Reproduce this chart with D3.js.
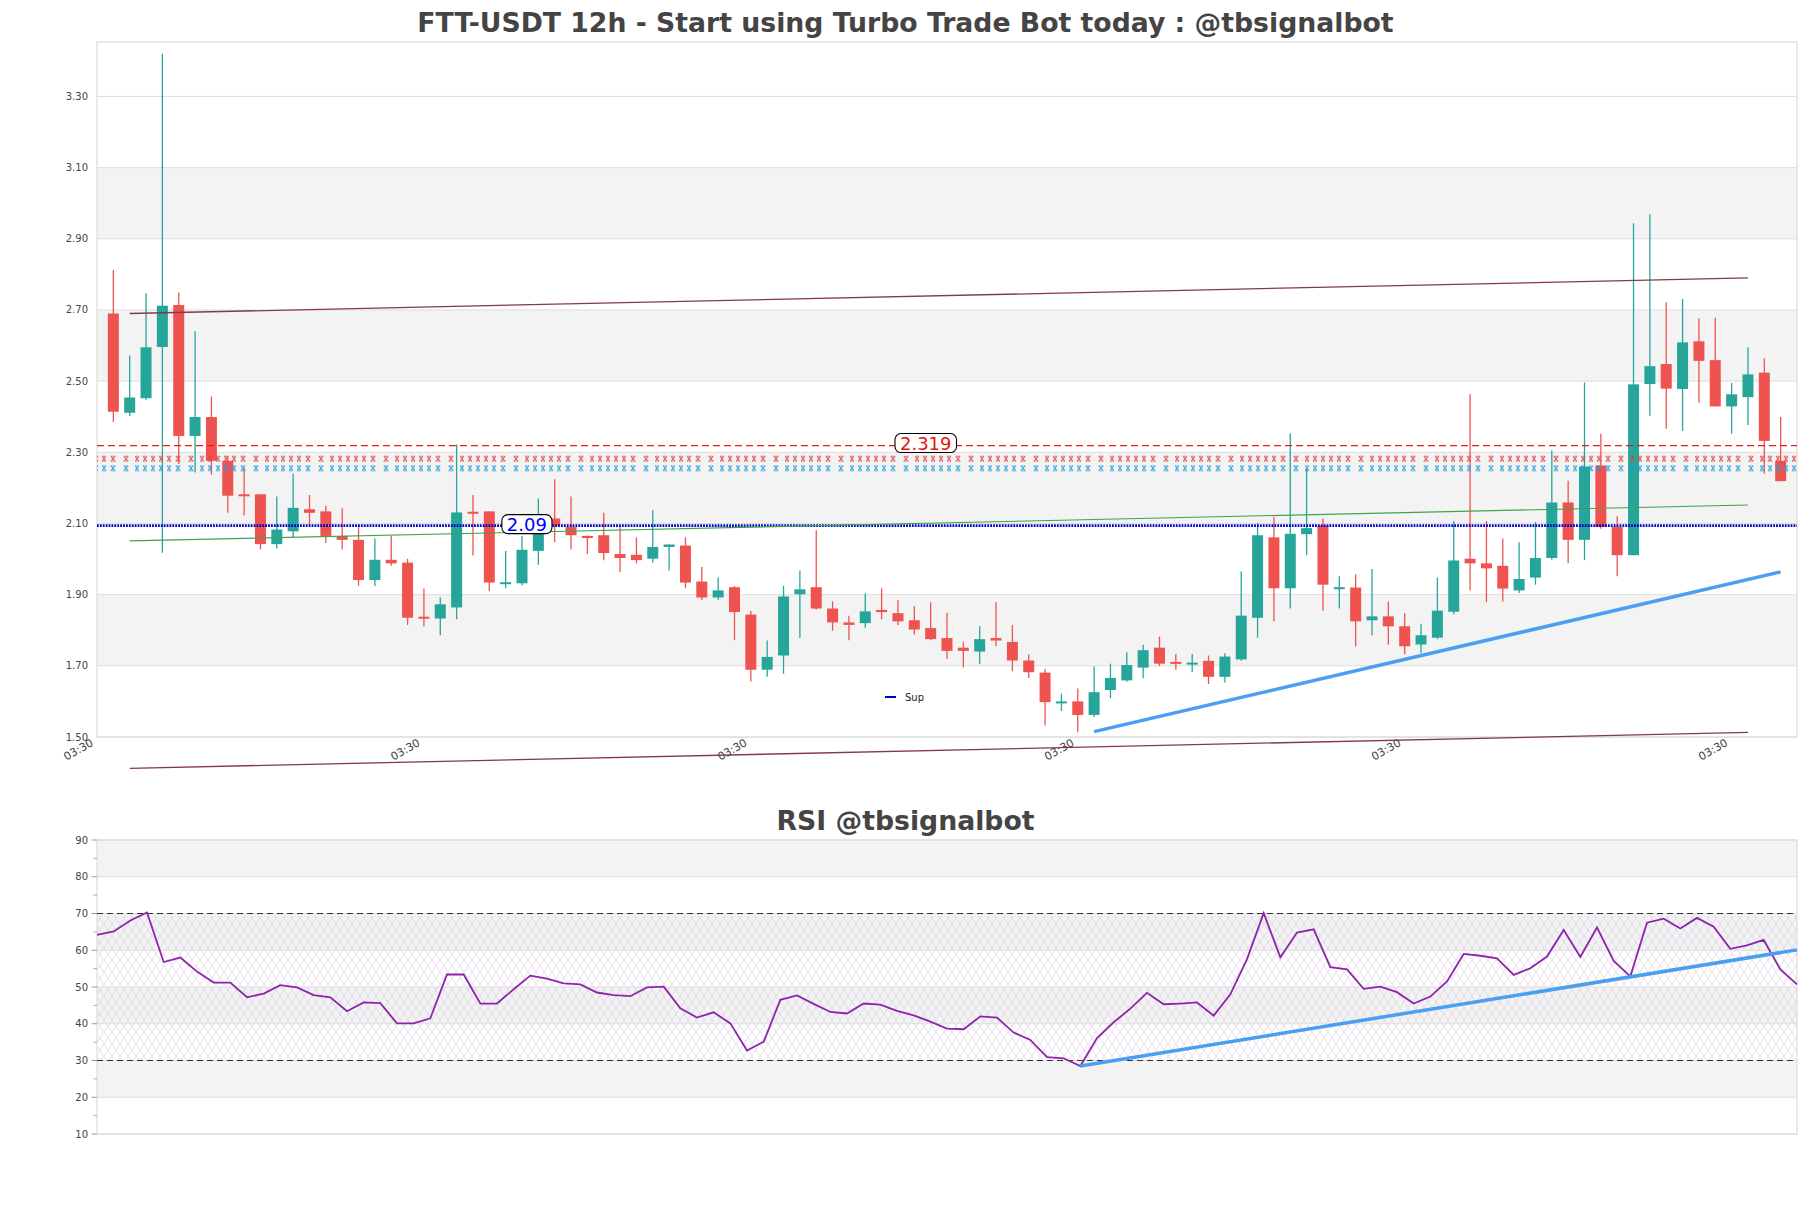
<!DOCTYPE html>
<html><head><meta charset="utf-8">
<script src="https://cdn.jsdelivr.net/npm/d3@7"></script>
<style>
html,body{margin:0;padding:0;background:#fff;}
svg{display:block;font-family:"DejaVu Sans",sans-serif;}
</style></head>
<body>
<svg id="chart" width="1811" height="1208"></svg>
<script>
// ---------- DATA ----------
const titleMain = "FTT-USDT 12h - Start using Turbo Trade Bot today : @tbsignalbot";
const titleRsi = "RSI @tbsignalbot";
const open  = [2.690,2.411,2.452,2.596,2.714,2.346,2.399,2.276,2.182,2.182,2.042,2.078,2.140,2.134,2.065,2.054,1.941,1.998,1.990,1.838,1.833,1.864,2.133,2.134,1.932,1.932,2.023,2.114,2.090,2.065,2.067,2.014,2.012,2.001,2.034,2.038,1.937,1.892,1.921,1.844,1.689,1.729,1.901,1.921,1.861,1.822,1.820,1.857,1.848,1.828,1.806,1.778,1.751,1.740,1.778,1.767,1.715,1.681,1.596,1.600,1.562,1.632,1.659,1.695,1.751,1.711,1.706,1.714,1.669,1.718,1.835,2.061,1.918,2.070,2.094,1.919,1.920,1.828,1.839,1.811,1.760,1.779,1.852,2.001,1.988,1.981,1.912,1.948,2.003,2.159,2.054,2.263,2.090,2.011,2.492,2.548,2.478,2.612,2.559,2.429,2.455,2.524,2.276];
const high  = [2.812,2.572,2.747,3.420,2.749,2.640,2.457,2.290,2.256,2.182,2.176,2.240,2.180,2.150,2.143,2.094,2.058,2.065,2.001,1.917,1.892,2.322,2.180,2.134,2.023,2.065,2.170,2.224,2.176,2.066,2.130,2.090,2.061,2.138,2.041,2.061,1.978,1.948,1.924,1.855,1.771,1.925,1.968,2.081,1.881,1.841,1.903,1.918,1.885,1.868,1.879,1.849,1.768,1.811,1.879,1.815,1.732,1.691,1.622,1.636,1.698,1.706,1.738,1.759,1.782,1.733,1.733,1.729,1.735,1.965,2.101,2.118,2.353,2.253,2.114,1.952,1.957,1.972,1.881,1.848,1.818,1.948,2.107,2.463,2.107,2.058,2.047,2.104,2.306,2.220,2.496,2.352,2.120,2.944,2.969,2.722,2.731,2.677,2.678,2.495,2.595,2.564,2.399];
const low   = [2.385,2.402,2.448,2.018,2.267,2.243,2.237,2.130,2.123,2.027,2.030,2.061,2.094,2.045,2.027,1.925,1.924,1.981,1.815,1.811,1.786,1.831,2.010,1.910,1.918,1.926,1.984,2.047,2.027,2.014,1.997,1.964,1.988,1.990,1.968,1.918,1.885,1.885,1.772,1.656,1.669,1.678,1.778,1.858,1.799,1.772,1.807,1.831,1.815,1.788,1.772,1.719,1.695,1.705,1.755,1.685,1.666,1.532,1.573,1.513,1.556,1.609,1.655,1.665,1.699,1.689,1.682,1.649,1.653,1.714,1.779,1.825,1.861,2.011,1.855,1.861,1.755,1.786,1.759,1.732,1.735,1.775,1.845,1.912,1.879,1.881,1.905,1.928,1.998,1.988,1.997,2.085,1.952,2.011,2.403,2.366,2.360,2.439,2.429,2.352,2.377,2.240,2.219];
const close = [2.414,2.454,2.595,2.712,2.346,2.399,2.276,2.178,2.178,2.042,2.083,2.144,2.130,2.065,2.054,1.941,1.998,1.988,1.835,1.834,1.873,2.131,2.129,1.934,1.935,2.026,2.074,2.094,2.067,2.059,2.017,2.003,1.997,2.034,2.041,1.934,1.892,1.912,1.851,1.689,1.725,1.895,1.915,1.861,1.822,1.815,1.853,1.851,1.825,1.802,1.775,1.742,1.742,1.775,1.771,1.715,1.682,1.598,1.600,1.562,1.626,1.666,1.702,1.744,1.706,1.708,1.709,1.669,1.726,1.841,2.067,1.918,2.071,2.087,1.928,1.921,1.825,1.839,1.811,1.755,1.786,1.855,1.996,1.988,1.974,1.917,1.944,2.003,2.159,2.054,2.260,2.090,2.011,2.491,2.542,2.479,2.609,2.557,2.429,2.463,2.519,2.332,2.219];
const rsi   = [64.2,65.1,68.1,70.3,56.8,58.0,54.2,51.2,51.2,47.2,48.2,50.5,49.9,47.8,47.2,43.4,45.8,45.6,40.1,40.1,41.5,53.4,53.4,45.5,45.5,49.4,53.1,52.3,51.0,50.7,48.5,47.8,47.5,49.9,50.1,44.2,41.7,43.1,40.1,32.7,35.1,46.5,47.7,45.4,43.2,42.8,45.5,45.2,43.5,42.3,40.6,38.7,38.5,42.0,41.7,37.6,35.6,30.9,30.6,28.5,36.1,40.4,44.1,48.4,45.3,45.5,45.8,42.2,48.0,57.6,70.1,58.1,64.8,65.7,55.4,54.8,49.5,50.1,48.6,45.5,47.4,51.5,59.0,58.5,57.8,53.3,55.1,58.3,65.5,58.2,66.2,57.1,52.9,67.5,68.6,65.9,68.8,66.4,60.4,61.3,62.8,54.8,50.7];
const xTickIndex  = [-1,19,39,59,79,99];
const xTickLabels = ["03:30","03:30","03:30","03:30","03:30","03:30"];
const priceTicks  = [1.50,1.70,1.90,2.10,2.30,2.50,2.70,2.90,3.10,3.30];
const rsiTicks    = [10,20,30,40,50,60,70,80,90];
const rsiMinorTicks = [15,25,35,45,55,65,75,85];
// horizontal levels
const resistanceLevel = 2.319;   // red dashed, labelled
const redZoneLevel    = 2.282;   // red "x" line
const blueZoneLevel   = 2.255;   // blue "x" line
const supportLevel    = 2.094;   // blue dotted, labelled "2.09"
const supportLabel    = "2.09";
const resistanceLabel = "2.319";
// trend lines: [index, value]
const channelTop    = [[1,2.690],[100,2.790]];
const channelBottom = [[1,1.412],[100,1.513]];
const channelMid    = [[1,2.051],[100,2.152]];
const supTrend      = [[60,1.515],[102,1.964]];
const rsiTrend      = [[59,28.5],[102,60.1]];
const rsiLevels     = [70,30];
const legendLabel   = "Sup";

// ---------- LAYOUT ----------
const svg = d3.select("#chart");
const X0 = 97, X1 = 1797;
const M = {top:42, bottom:737};
const R = {top:840, bottom:1134};
const n = close.length;
const x  = d3.scaleLinear().domain([-1, n]).range([X0, X1]);
const y  = d3.scaleLinear().domain([1.5, 3.453]).range([M.bottom, M.top]);
const xr = d3.scaleLinear().domain([0, n-1]).range([X0, X1]);
const yr = d3.scaleLinear().domain([10, 90]).range([R.bottom, R.top]);
const UP = "#26a69a", DOWN = "#ef5350", TXT = "#444";

svg.append("rect").attr("width",1811).attr("height",1208).attr("fill","#fff");

// defs
const defs = svg.append("defs");
const hatch = defs.append("pattern").attr("id","hatch").attr("patternUnits","userSpaceOnUse")
  .attr("width",8).attr("height",12);
hatch.append("path").attr("d","M0,0 L8,12 M8,0 L0,12").attr("stroke","#d3c5dd").attr("stroke-width",0.55).attr("fill","none");

function xPattern(id, color, cy){
  const p = defs.append("pattern").attr("id",id).attr("patternUnits","userSpaceOnUse")
    .attr("x",5).attr("y",cy-3).attr("width",65).attr("height",6);
  let d = "";
  [0,8,16,24,32].forEach(q=>{ d += ` M${q},0.8 H${q+4} M${q},5.2 H${q+4} M${q},0.8 L${q+4},5.2 M${q+4},0.8 L${q},5.2`; });
  [43,56].forEach(q=>{ d += ` M${q-2.5},0.8 H${q+2.5} M${q-2.5},5.2 H${q+2.5} M${q-2},1 L${q+2},5 M${q+2},1 L${q-2},5`; });
  p.append("path").attr("d",d).attr("stroke",color).attr("stroke-width",0.9).attr("fill","none");
}

// ---------- MAIN PANEL ----------
const gm = svg.append("g");
for (let k=0; k<priceTicks.length-1; k++){
  if (k % 2 === 1) gm.append("rect").attr("x",X0).attr("width",X1-X0)
    .attr("y",y(priceTicks[k+1])).attr("height",y(priceTicks[k])-y(priceTicks[k+1])).attr("fill","#f3f3f3");
}
gm.selectAll("line.grid").data(priceTicks).join("line").attr("class","grid")
  .attr("x1",X0).attr("x2",X1).attr("y1",d=>y(d)).attr("y2",d=>y(d))
  .attr("stroke","#dedede").attr("stroke-width",1);
gm.append("rect").attr("x",X0).attr("y",M.top).attr("width",X1-X0).attr("height",M.bottom-M.top)
  .attr("fill","none").attr("stroke","#dcdcdc").attr("stroke-width",1.2);
gm.selectAll("text.yl").data(priceTicks).join("text").attr("class","yl")
  .attr("x",88).attr("y",d=>y(d)).attr("dy","0.35em").attr("text-anchor","end")
  .attr("font-size",10).attr("fill",TXT).text(d=>d.toFixed(2));
gm.selectAll("text.xl").data(xTickIndex).join("text").attr("class","xl")
  .attr("transform",d=>`translate(${x(d)-3},${M.bottom+8}) rotate(-30)`)
  .attr("text-anchor","end").attr("font-size",11).attr("fill",TXT)
  .text((d,i)=>xTickLabels[i]);

// candles
const idx = d3.range(n);
const gc = gm.append("g");
gc.selectAll("line.wick").data(idx).join("line").attr("class","wick")
  .attr("x1",i=>x(i)).attr("x2",i=>x(i)).attr("y1",i=>y(high[i])).attr("y2",i=>y(low[i]))
  .attr("stroke",i=>close[i]>=open[i]?UP:DOWN).attr("stroke-width",1.3);
gc.selectAll("rect.body").data(idx).join("rect").attr("class","body")
  .attr("x",i=>x(i)-5.5).attr("width",11)
  .attr("y",i=>y(Math.max(open[i],close[i])))
  .attr("height",i=>Math.max(2, Math.abs(y(open[i])-y(close[i]))))
  .attr("fill",i=>close[i]>=open[i]?UP:DOWN);

// horizontal levels
xPattern("xpRed","#e2403f",y(redZoneLevel));
xPattern("xpBlue","#1a9be0",y(blueZoneLevel));
gm.append("rect").attr("x",X0).attr("width",X1-X0).attr("y",y(redZoneLevel)-3).attr("height",6).attr("fill","url(#xpRed)");
gm.append("rect").attr("x",X0).attr("width",X1-X0).attr("y",y(blueZoneLevel)-3).attr("height",6).attr("fill","url(#xpBlue)");
gm.append("line").attr("x1",X0).attr("x2",X1).attr("y1",y(resistanceLevel)).attr("y2",y(resistanceLevel))
  .attr("stroke","#e0201c").attr("stroke-width",1.3).attr("stroke-dasharray","7,4");
gm.append("line").attr("x1",X0).attr("x2",X1).attr("y1",y(supportLevel)).attr("y2",y(supportLevel))
  .attr("stroke","#0000c8").attr("stroke-width",2.6).attr("stroke-dasharray","1.8,1.1");

// trend lines
const lineP = d3.line().x(d=>x(d[0])).y(d=>y(d[1]));
gm.append("path").attr("d",lineP(channelTop)).attr("stroke","#84394a").attr("stroke-width",1.3).attr("fill","none");
gm.append("path").attr("d",lineP(channelBottom)).attr("stroke","#84394a").attr("stroke-width",1.3).attr("fill","none");
gm.append("path").attr("d",lineP(channelMid)).attr("stroke","#3fa34d").attr("stroke-width",1.1).attr("fill","none");
gm.append("path").attr("d",lineP(supTrend)).attr("stroke","#4a9ff0").attr("stroke-width",3.5).attr("fill","none");

// labels
function boxLabel(cx, cy, txt, color){
  const g = gm.append("g");
  const t = g.append("text").attr("x",cx).attr("y",cy).attr("dy","0.36em").attr("text-anchor","middle")
    .attr("font-size",18).attr("fill",color).text(txt);
  const w = t.node().getComputedTextLength();
  g.insert("rect","text").attr("x",cx-w/2-5).attr("y",cy-9.5).attr("width",w+10).attr("height",19)
    .attr("rx",6).attr("fill","#fff").attr("stroke","#000").attr("stroke-width",1.1);
}
boxLabel(x(49.7), y(resistanceLevel)-2.5, resistanceLabel, "#e8120f");
boxLabel(x(25.3), y(supportLevel)-1.5, supportLabel, "#0000ff");

// legend
gm.append("line").attr("x1",885).attr("x2",896).attr("y1",697).attr("y2",697).attr("stroke","#0000c0").attr("stroke-width",2);
gm.append("text").attr("x",905).attr("y",697).attr("dy","0.35em").attr("font-size",10).attr("fill","#222").text(legendLabel);

// title
svg.append("text").attr("x",905.5).attr("y",32).attr("text-anchor","middle").attr("font-size",26.7)
  .attr("font-weight","bold").attr("fill",TXT).text(titleMain);

// ---------- RSI PANEL ----------
const gr = svg.append("g");
for (let k=0; k<rsiTicks.length-1; k++){
  if (k % 2 === 1) gr.append("rect").attr("x",X0).attr("width",X1-X0)
    .attr("y",yr(rsiTicks[k+1])).attr("height",yr(rsiTicks[k])-yr(rsiTicks[k+1])).attr("fill","#f3f3f3");
}
gr.append("rect").attr("x",X0).attr("width",X1-X0).attr("y",yr(70)).attr("height",yr(30)-yr(70)).attr("fill","url(#hatch)");
gr.selectAll("line.grid").data(rsiTicks).join("line").attr("class","grid")
  .attr("x1",X0).attr("x2",X1).attr("y1",d=>yr(d)).attr("y2",d=>yr(d))
  .attr("stroke","#dedede").attr("stroke-width",1);
gr.append("rect").attr("x",X0).attr("y",R.top).attr("width",X1-X0).attr("height",R.bottom-R.top)
  .attr("fill","none").attr("stroke","#dcdcdc").attr("stroke-width",1.2);
gr.selectAll("line.tk").data(rsiTicks).join("line").attr("class","tk")
  .attr("x1",91.5).attr("x2",X0).attr("y1",d=>yr(d)).attr("y2",d=>yr(d)).attr("stroke","#999");
gr.selectAll("line.mtk").data(rsiMinorTicks).join("line").attr("class","mtk")
  .attr("x1",93.5).attr("x2",X0).attr("y1",d=>yr(d)).attr("y2",d=>yr(d)).attr("stroke","#aaa");
gr.selectAll("text.yl").data(rsiTicks).join("text").attr("class","yl")
  .attr("x",88).attr("y",d=>yr(d)).attr("dy","0.35em").attr("text-anchor","end")
  .attr("font-size",10).attr("fill",TXT).text(d=>d);
gr.selectAll("line.lvl").data(rsiLevels).join("line").attr("class","lvl")
  .attr("x1",X0).attr("x2",X1).attr("y1",d=>yr(d)).attr("y2",d=>yr(d))
  .attr("stroke","#333").attr("stroke-width",1.2).attr("stroke-dasharray","6,4");
gr.append("path").datum(rsi).attr("d",d3.line().x((d,i)=>xr(i)).y(d=>yr(d)))
  .attr("fill","none").attr("stroke","#8e24aa").attr("stroke-width",1.8);
gr.append("path").attr("d",d3.line().x(d=>xr(d[0])).y(d=>yr(d[1]))(rsiTrend))
  .attr("fill","none").attr("stroke","#4a9ff0").attr("stroke-width",3.5);
svg.append("text").attr("x",905.5).attr("y",830).attr("text-anchor","middle").attr("font-size",26.7)
  .attr("font-weight","bold").attr("fill",TXT).text(titleRsi);
</script>
</body></html>
